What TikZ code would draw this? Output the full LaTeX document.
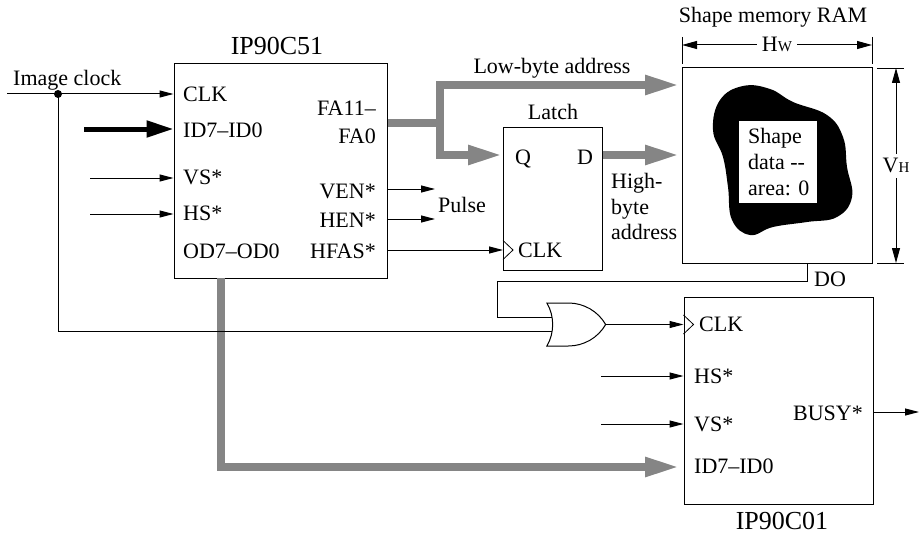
\documentclass[tikz,border=0pt]{standalone}
\usepackage{fontspec}
\setmainfont{Liberation Serif}
\usepackage{xcolor}
\usetikzlibrary{arrows.meta, positioning, shapes.gates.logic.US}

\begin{document}
\begin{tikzpicture}[
  x=1pt, y=-1pt,
  >={Triangle[length=14pt, width=7pt]},
  font=\fontsize{22}{26}\selectfont,
  block/.style={rectangle, draw=black, line width=1pt, inner sep=0pt},
  lbl/.style={inner sep=0pt, text height=14pt, text depth=0pt},
  lblleft/.style={lbl, anchor=west},
  lblright/.style={lbl, anchor=east},
  title/.style={lbl, font=\fontsize{26}{26}\selectfont},
  wire/.style={->, line width=1pt},
  plainwire/.style={line width=1pt},
  dimline/.style={<->, line width=1pt, >={Triangle[length=15pt, width=8pt]}},
  extline/.style={line width=0.8pt},
  bus/.style={line width=8pt, color=black!48},
  busarrow/.style={-{Triangle[length=35pt, width=18pt]}, line width=8pt, color=black!48}
]
  \useasboundingbox (0,0) rectangle (919,535);

  % Blocks
  \node[block, minimum width=213pt, minimum height=214pt] (ip51) at (280.5,171) {};
  \node[block, minimum width=99pt, minimum height=143pt] (latch) at (552.5,198.5) {};
  \node[block, minimum width=190pt, minimum height=195pt] (ram) at (777,165.5) {};
  \node[block, minimum width=189pt, minimum height=207pt] (ip01) at (778.5,400.5) {};

  % Titles
  \node[title] (ip51title) at (277,48) {IP90C51};
  \node[lbl] (latchtitle) at (553,113) {Latch};
  \node[lbl] (ramtitle) at (773,16) {Shape memory RAM};
  \node[title] (ip01title) at (782,522) {IP90C01};

  % Pins of IP90C51
  \node[lblleft] (clk51) at (183,95) {CLK};
  \node[lblleft] (id51) at (183,130) {ID7–ID0};
  \node[lblleft] (vs51) at (183,177) {VS*};
  \node[lblleft] (hs51) at (183,213) {HS*};
  \node[lblleft] (od51) at (183,251) {OD7–OD0};
  \node[lblright] (fahi51) at (376,109) {FA11–};
  \node[lblright] (falo51) at (376,136) {FA0};
  \node[lblright] (ven51) at (376,191) {VEN*};
  \node[lblright] (hen51) at (376,220) {HEN*};
  \node[lblright] (hfas51) at (376,251) {HFAS*};

  % Pins of latch
  \node[lbl] (qlatch) at (523,157) {Q};
  \node[lbl] (dlatch) at (585,157) {D};
  \node[lblleft] (clklatch) at (518,250) {CLK};

  % Pins of IP90C01
  \node[lblleft] (clk01) at (699,324) {CLK};
  \node[lblleft] (hs01) at (694,376) {HS*};
  \node[lblleft] (vs01) at (694,424) {VS*};
  \node[lblleft] (id01) at (694,466) {ID7–ID0};
  \node[lblright] (busy01) at (863,413) {BUSY*};

  % Free labels
  \node[lblleft] (imgclk) at (13,78) {Image clock};
  \node[lblleft] (pulse) at (438,205) {Pulse};
  \node[lbl] (lowbyte) at (552,67) {Low-byte address};
  \node[lblleft] (highb1) at (611,181) {High-};
  \node[lblleft] (highb2) at (611,207) {byte};
  \node[lblleft] (highb3) at (611,232) {address};
  \node[lblleft] (dolabel) at (814,279) {DO};

  % Shape in the RAM
  \fill[black] plot[smooth cycle, tension=0.7] coordinates {(743,86) (770,89) (793,102) (827,115) (843,137) (847,167) (852,197) (837,217) (807,222) (773,227) (750,235) (732,220) (728,187) (723,157) (713,130) (720,100)};
  \node[rectangle, fill=white, minimum width=78pt, minimum height=82pt, inner sep=0pt] (shapebox) at (778,162) {};
  \node[lblleft] (shape1) at (748,136) {Shape};
  \node[lblleft] (shape2) at (748,162) {data -{}-};
  \node[lblleft] (shape3) at (748,188) {area: 0};

  % Gate
  \node[or gate US, draw, logic gate inputs=nn, logic gate input sep=14pt, minimum width=52pt, minimum height=43pt, inner sep=0pt, line width=1pt] (orgate) at (572,324.5) {};

  % Free ends
  \coordinate (clkstart) at (7,94);
  \coordinate (clkdot) at (58,94);
  \coordinate (idstart) at (84,129);
  \coordinate (vsstart) at (90,178);
  \coordinate (hsstart) at (90,214);
  \coordinate (venend) at (435,189);
  \coordinate (henend) at (435,219);
  \coordinate (hfasstart) at (387,250);
  \coordinate (busjoin) at (440,123);
  \coordinate (lowend) at (680,85);
  \coordinate (qend) at (503,155);
  \coordinate (dend) at (680,155);
  \coordinate (dostart) at (807,263);
  \coordinate (doturn) at (497,281);
  \coordinate (hsstart01) at (601,376);
  \coordinate (vsstart01) at (601,424);
  \coordinate (odstart) at (221,278);
  \coordinate (odend) at (680,467);
  \coordinate (busyend) at (919,412);
  \coordinate (latchck) at (503,250);
  \coordinate (ramck) at (orgate.output -| ip01.west);

  % Inputs of IP90C51
  \draw[wire] (clkstart) -- (clkstart -| ip51.west);
  \fill (clkdot) circle (4pt);
  \draw[->, line width=5pt, >={Triangle[length=27pt, width=16pt]}] (idstart) -- (idstart -| ip51.west);
  \draw[wire] (vsstart) -- (vsstart -| ip51.west);
  \draw[wire] (hsstart) -- (hsstart -| ip51.west);

  % Outputs of IP90C51
  \draw[wire] (venend -| ip51.east) -- (venend);
  \draw[wire] (henend -| ip51.east) -- (henend);
  \draw[wire] (hfasstart) -- (latchck);

  % Address buses
  \draw[bus] (busjoin -| ip51.east) -- (busjoin);
  \draw[busarrow] (busjoin) |- (lowend);
  \draw[busarrow] (busjoin) |- (qend);
  \draw[busarrow] (qend -| latch.east) -- (dend);

  % Data bus
  \draw[busarrow] (odstart) |- (odend);

  % Clock to the gate and gate to IP90C01
  \draw[plainwire] (clkdot) |- (orgate.input 2);
  \draw[plainwire] (dostart) |- (doturn) |- (orgate.input 1);
  \draw[wire] (orgate.output) -- (ramck);

  % Other pins of IP90C01
  \draw[wire] (hsstart01) -- (hsstart01 -| ip01.west);
  \draw[wire] (vsstart01) -- (vsstart01 -| ip01.west);
  \draw[wire] (busyend -| ip01.east) -- (busyend);

  % Clock marks
  \foreach \ck in {latchck, ramck}
    \draw[line width=0.8pt] ([yshift=-9.5pt]\ck) -- ([xshift=10pt]\ck) -- ([yshift=9.5pt]\ck);

  % Dimensions of the RAM
  \coordinate (hwleft) at (682,45);
  \coordinate (hwright) at (872,45);
  \coordinate (vhtop) at (896,68);
  \coordinate (vhbot) at (896,263);
  \draw[extline] (682,37) -- (682,64);
  \draw[extline] (872,37) -- (872,64);
  \draw[extline] (877,68) -- (904,68);
  \draw[extline] (877,263) -- (904,263);
  \draw[dimline] (hwleft) -- node[lbl, fill=white, inner xsep=5pt] (hwlabel) {H{\fontsize{15}{15}\selectfont W}} (hwright);
  \draw[dimline] (vhtop) -- node[lbl, fill=white, inner ysep=5pt] (vhlabel) {V{\fontsize{15}{15}\selectfont H}} (vhbot);
\end{tikzpicture}
\end{document}
